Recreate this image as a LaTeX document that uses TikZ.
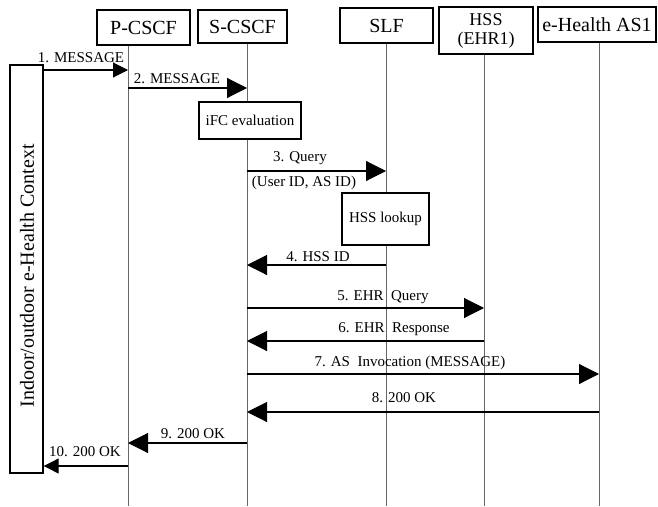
\documentclass[tikz,border=0pt]{standalone}
\usepackage{fontspec}
\setmainfont{Liberation Serif}
\usetikzlibrary{arrows.meta}
\begin{document}
\begin{tikzpicture}[x=1pt,y=-1pt,
  hdr/.style={draw, line width=1.4pt, fill=white, inner sep=0pt, font=\fontsize{20}{22}\selectfont, align=center},
  procbox/.style={draw, line width=1.2pt, fill=white, inner sep=0pt, font=\fontsize{15}{17}\selectfont},
  life/.style={draw=black!60, line width=0.8pt},
  msg/.style={line width=1.1pt, -{Triangle[length=20pt,width=20pt]}},
  smsg/.style={line width=1.1pt, -{Triangle[length=15pt,width=15pt]}},
  lbl/.style={inner sep=0pt, font=\fontsize{15}{17}\selectfont}]
\useasboundingbox (0,0) rectangle (658,506);
\fill[white] (0,0) rectangle (658,506);
% lifeline coordinates
\coordinate (lP) at (128,45);
\coordinate (lS) at (247,43);
\coordinate (lL) at (386,43);
\coordinate (lH) at (484,54);
\coordinate (lA) at (599,42);
\coordinate (eP) at (128,506);
\coordinate (eS) at (247,506);
\coordinate (eL) at (386,506);
\coordinate (eH) at (484,506);
\coordinate (eA) at (599,506);
\draw[life] (lP) -- (eP);
\draw[life] (lS) -- (eS);
\draw[life] (lL) -- (eL);
\draw[life] (lH) -- (eH);
\draw[life] (lA) -- (eA);
% headers
\node[hdr, minimum width=93pt, minimum height=35pt] (pcscf) at (143.5,27.5) {P-CSCF};
\node[hdr, minimum width=89pt, minimum height=33pt] (scscf) at (242.5,26.5) {S-CSCF};
\node[hdr, minimum width=93pt, minimum height=35pt] (slf) at (386.5,25.5) {SLF};
\node[hdr, minimum width=94pt, minimum height=47pt, font=\fontsize{18}{19}\selectfont] (hss) at (486,30.5) {HSS\\(EHR1)};
\node[hdr, minimum width=118pt, minimum height=35pt] (as) at (597,24.5) {e-Health AS1};
% context box
\node[draw, line width=1.4pt, fill=white, minimum width=33pt, minimum height=408pt, inner sep=0pt] (ctx) at (26.5,269) {};
\node[rotate=90, inner sep=0pt, font=\fontsize{20}{22}\selectfont] (ctxt) at (27,276) {Indoor/outdoor e-Health Context};
% processing boxes
\node[procbox, minimum width=102pt, minimum height=37pt] (ifc) at (250,120.5) {iFC evaluation};
\node[procbox, minimum width=87pt, minimum height=52pt] (lookup) at (385.5,219) {HSS lookup};
% messages
\draw[smsg] (ctx.east |- 0,70) -- (lP |- 0,70);
\node[lbl] (m1) at (81,58) {1. MESSAGE};
\draw[msg] (lP |- 0,88) -- (lS |- 0,88);
\node[lbl] (m2) at (177,79) {2. MESSAGE};
\draw[msg] (lS |- 0,171) -- (lL |- 0,171);
\node[lbl] (m3) at (300,158) {3. Query};
\node[lbl] (m3b) at (304,183) {(User ID, AS ID)};
\draw[msg] (lL |- 0,265) -- (lS |- 0,265);
\node[lbl] (m4) at (318,257) {4. HSS ID};
\draw[msg] (lS |- 0,308) -- (lH |- 0,308);
\node[lbl] (m5) at (383,297) {5. EHR\ \ Query};
\draw[msg] (lH |- 0,341) -- (lS |- 0,341);
\node[lbl] (m6) at (394,329) {6. EHR\ \ Response};
\draw[msg] (lS |- 0,374) -- (lA |- 0,374);
\node[lbl] (m7) at (410,363) {7. AS\ \ Invocation (MESSAGE)};
\draw[msg] (lA |- 0,412) -- (lS |- 0,412);
\node[lbl] (m8) at (404,398) {8. 200 OK};
\draw[msg] (lS |- 0,443) -- (lP |- 0,443);
\node[lbl] (m9) at (193,434) {9. 200 OK};
\draw[smsg] (lP |- 0,466) -- (ctx.east |- 0,466);
\node[lbl] (m10) at (85,452) {10. 200 OK};
\end{tikzpicture}
\end{document}
